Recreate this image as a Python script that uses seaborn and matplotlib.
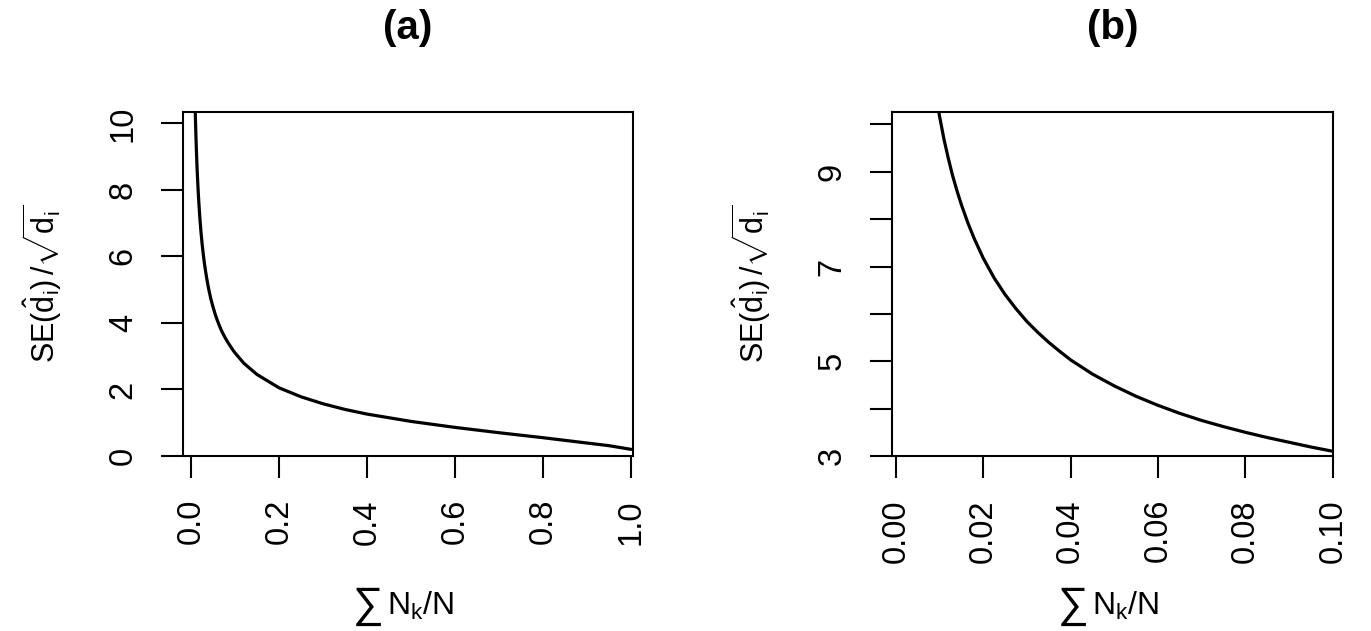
import numpy as np
import pandas as pd
import matplotlib
matplotlib.use("Agg")
import matplotlib.pyplot as plt
import seaborn as sns

# Data (sum N_k / N  vs  SE(d_hat_i)/sqrt(d_i))
share = [0.0095, 0.01, 0.011, 0.012, 0.013, 0.014, 0.015, 0.0165, 0.018, 0.02,
         0.0225, 0.025, 0.0275, 0.03, 0.0325, 0.035, 0.0375, 0.04, 0.045, 0.05,
         0.055, 0.06, 0.065, 0.07, 0.075, 0.08, 0.085, 0.09, 0.095, 0.1,
         0.12, 0.15, 0.2, 0.25, 0.3, 0.35, 0.4, 0.45, 0.5, 0.6,
         0.7, 0.8, 0.9, 0.95, 1.0]
se_ratio = [10.45, 10.18, 9.70, 9.29, 8.92, 8.60, 8.31, 7.92, 7.58, 7.18,
            6.76, 6.41, 6.11, 5.84, 5.61, 5.40, 5.21, 5.03, 4.73, 4.48,
            4.26, 4.07, 3.90, 3.75, 3.62, 3.50, 3.39, 3.29, 3.19, 3.10,
            2.79, 2.45, 2.05, 1.78, 1.57, 1.40, 1.26, 1.15, 1.04, 0.86,
            0.70, 0.55, 0.39, 0.31, 0.20]

panel_titles = ["(a)", "(b)"]
xticks_a = [0.0, 0.2, 0.4, 0.6, 0.8, 1.0]
xticklabels_a = ["0.0", "0.2", "0.4", "0.6", "0.8", "1.0"]
yticks_a = [0, 2, 4, 6, 8, 10]
yticklabels_a = ["0", "2", "4", "6", "8", "10"]
xticks_b = [0.0, 0.02, 0.04, 0.06, 0.08, 0.10]
xticklabels_b = ["0.00", "0.02", "0.04", "0.06", "0.08", "0.10"]
yticks_b = [3, 4, 5, 6, 7, 8, 9, 10]
yticklabels_b = ["3", "", "5", "", "7", "", "9", ""]

df = pd.DataFrame({"share": share, "se": se_ratio})

sns.set_style("ticks")
plt.rcParams["font.family"] = ["Liberation Sans", "DejaVu Sans"]
plt.rcParams["mathtext.fontset"] = "custom"
plt.rcParams["mathtext.rm"] = "Liberation Sans"
plt.rcParams["mathtext.it"] = "Liberation Sans:italic"
plt.rcParams["mathtext.bf"] = "Liberation Sans:bold"
plt.rcParams["mathtext.sf"] = "Liberation Sans"
plt.rcParams["text.color"] = "black"
plt.rcParams["axes.labelcolor"] = "black"
plt.rcParams["xtick.color"] = "black"
plt.rcParams["ytick.color"] = "black"
plt.rcParams["axes.edgecolor"] = "black"

W, H = 1371, 631
fig = plt.figure(figsize=(W / 100, H / 100), dpi=100)

top_px, bot_px = 111.7, 456.0
boxes = [(183.3, 633.0), (892.3, 1333.0)]
axes = []
for (l, r) in boxes:
    ax = fig.add_axes([l / W, 1 - bot_px / H, (r - l) / W, (bot_px - top_px) / H])
    axes.append(ax)

ylab = r"$\mathrm{SE}(\hat{\mathrm{d}}_{\mathrm{i}})\,/\sqrt{\mathrm{d}_{\mathrm{i}}}$"
xlab_rest = r"$\mathrm{N}_{\mathrm{k}}/\mathrm{N}$"

settings = [
    dict(xlim=(-0.0175, 1.0045), ylim=(0, 10.35), xt=xticks_a, xtl=xticklabels_a,
         yt=yticks_a, ytl=yticklabels_a),
    dict(xlim=(-0.0008, 0.10005), ylim=(3, 10.27), xt=xticks_b, xtl=xticklabels_b,
         yt=yticks_b, ytl=yticklabels_b),
]

for i, ax in enumerate(axes):
    s = settings[i]
    sns.lineplot(data=df, x="share", y="se", ax=ax, color="black", linewidth=2.3,
                 sort=False, estimator=None)
    ax.set_xlim(*s["xlim"])
    ax.set_ylim(*s["ylim"])
    ax.set_xticks(s["xt"])
    ax.set_xticklabels(s["xtl"], rotation=90)
    ax.set_yticks(s["yt"])
    ax.set_yticklabels(s["ytl"], rotation=90, va="center")
    ax.tick_params(axis="both", direction="out", length=16, width=1.5, colors="black",
                   labelsize=23.5)
    ax.tick_params(axis="x", pad=15)
    ax.tick_params(axis="y", pad=16)
    for sp in ax.spines.values():
        sp.set_visible(True)
        sp.set_linewidth(1.5)
        sp.set_color("black")
    ax.set_xlabel("")
    ax.set_ylabel(ylab, fontsize=22, va="center", color="black")
    wpx = boxes[i][1] - boxes[i][0]
    hpx = bot_px - top_px
    ax.yaxis.set_label_coords(-141.0 / wpx, 0.5)
    # x label: large summation sign followed by N_k/N
    ax.annotate("\u2211", xy=(0.5, -(605.5 - bot_px) / hpx), xycoords="axes fraction",
                xytext=(-40 * 0.72, 0), textcoords="offset points",
                ha="center", va="center", fontsize=31, color="black")
    ax.annotate(xlab_rest, xy=(0.5, -(615 - bot_px) / hpx), xycoords="axes fraction",
                xytext=(-21 * 0.72, 0), textcoords="offset points",
                ha="left", va="baseline", fontsize=23, color="black")
    ax.set_title(panel_titles[i], fontsize=29, fontweight="bold", y=(bot_px - 28) / hpx,
                 va="center", pad=0, color="black")
    ax.set_facecolor("white")

fig.patch.set_facecolor("white")
fig.savefig("out.png", dpi=100, facecolor="white")
